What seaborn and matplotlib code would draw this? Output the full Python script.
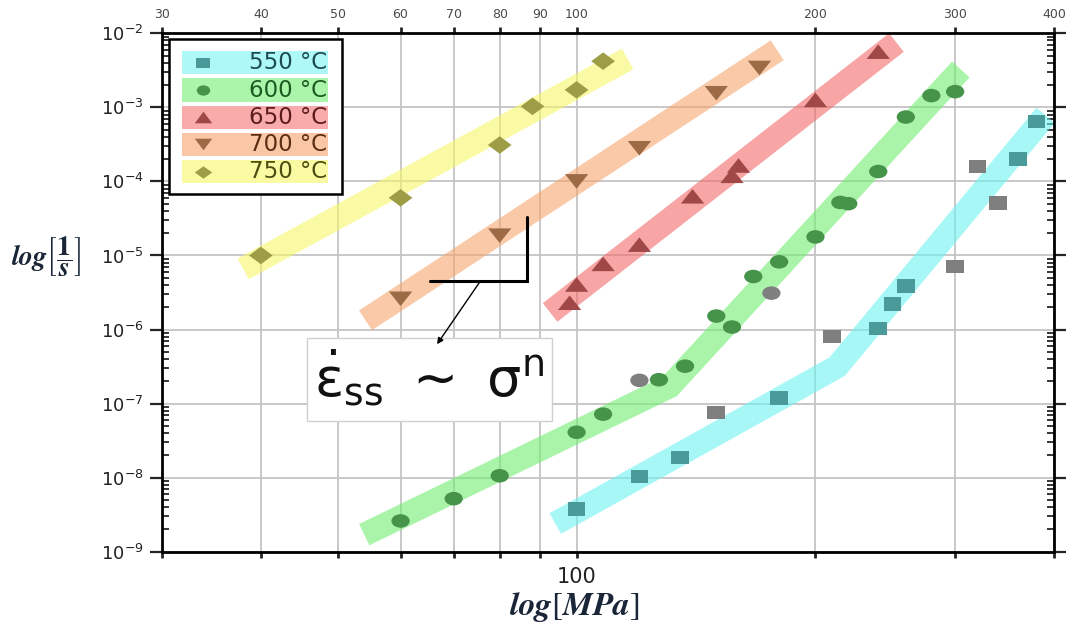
import matplotlib
matplotlib.use("Agg")
import matplotlib.pyplot as plt
from matplotlib.markers import MarkerStyle
from matplotlib.transforms import Affine2D
from matplotlib.patches import Rectangle
from matplotlib.ticker import FixedLocator, NullLocator, LogLocator, NullFormatter
import pandas as pd
import seaborn as sns

# ---------------- data ----------------
temps = ["550 °C", "600 °C", "650 °C", "700 °C", "750 °C"]

stress_550 = [100, 120, 135, 150, 180, 210, 240, 250, 260, 300, 320, 340, 360, 380]
rate_550 = [3.8e-9, 1.04e-8, 1.87e-8, 7.6e-8, 1.18e-7, 8.1e-7, 1.03e-6, 2.2e-6,
            3.9e-6, 7.1e-6, 1.6e-4, 5.1e-5, 2.0e-4, 6.4e-4]
grey_550 = [0, 0, 0, 1, 0, 1, 0, 0, 0, 1, 1, 1, 0, 0]

stress_600 = [60, 70, 80, 100, 108, 120, 127, 137, 150, 157, 167, 176, 180, 200,
              215, 220, 240, 260, 280, 300]
rate_600 = [2.6e-9, 5.2e-9, 1.06e-8, 4.1e-8, 7.2e-8, 2.06e-7, 2.1e-7, 3.2e-7,
            1.52e-6, 1.08e-6, 5.2e-6, 3.1e-6, 8.2e-6, 1.78e-5, 5.2e-5, 5.0e-5,
            1.36e-4, 7.4e-4, 1.44e-3, 1.63e-3]
grey_600 = [0, 0, 0, 0, 0, 1, 0, 0, 0, 0, 0, 1, 0, 0, 0, 0, 0, 0, 0, 0]

stress_650 = [98, 100, 108, 120, 140, 157, 160, 200, 240]
rate_650 = [2.3e-6, 4.05e-6, 7.7e-6, 1.4e-5, 6.3e-5, 1.19e-4, 1.64e-4, 1.26e-3, 5.65e-3]
grey_650 = [0] * len(stress_650)

stress_700 = [60, 80, 100, 120, 150, 170]
rate_700 = [2.6e-6, 1.85e-5, 1.0e-4, 2.8e-4, 1.55e-3, 3.4e-3]
grey_700 = [0] * len(stress_700)

stress_750 = [40, 60, 80, 88, 100, 108]
rate_750 = [1.0e-5, 6.0e-5, 3.1e-4, 1.03e-3, 1.72e-3, 4.2e-3]
grey_750 = [0] * len(stress_750)

# power-law trend bands (550 and 600 °C change slope)
band_550_stress = [94, 213, 390]
band_550_rate = [2.4e-9, 3.15e-7, 7.8e-4]
band_600_stress = [54, 131, 305]
band_600_rate = [1.7e-9, 1.7e-7, 3.25e-3]
band_650_stress = [92.6, 253]
band_650_rate = [1.7e-6, 7.5e-3]
band_700_stress = [54.2, 179]
band_700_rate = [1.33e-6, 5.9e-3]
band_750_stress = [38.0, 116]
band_750_rate = [6.6e-6, 4.5e-3]

stress_ticks = [30, 40, 50, 60, 70, 80, 90, 100, 200, 300, 400]
stress_tick_labels = ["30", "40", "50", "60", "70", "80", "90", "100", "200", "300", "400"]
bottom_tick = 100
rate_ticks = [1e-9, 1e-8, 1e-7, 1e-6, 1e-5, 1e-4, 1e-3, 1e-2]

# slope guide (stress, rate) and arrow
guide_stress = [65.3, 86.6, 86.6]
guide_rate = [4.57e-6, 4.57e-6, 3.34e-5]
arrow_from = (75.7, 4.57e-6)
arrow_to = (66.4, 5.9e-7)

# ---------------- styles ----------------
band_colors = ["#6ef3f3", "#70ee70", "#f26969", "#f5a56e", "#f7f769"]
marker_colors = ["#4a9a9a", "#45944a", "#a04848", "#9c6a44", "#9d9d46"]
text_colors = ["#1d4c50", "#1d5a22", "#5c1c1c", "#5a2d14", "#4d4d12"]
legend_fill = ["#aef8f8", "#aaf5aa", "#f9aaaa", "#f9c7a6", "#fafaa2"]
shade_color = "#7f7f7f"

def stretched(m, sx):
    return MarkerStyle(m, transform=Affine2D().scale(sx, 1.0))

markers = [stretched("s", 1.3), stretched("o", 1.35), stretched("^", 1.6),
           stretched("v", 1.6), stretched("D", 1.35)]
sizes = [95, 95, 110, 110, 80]

series = [
    (stress_550, rate_550, grey_550, band_550_stress, band_550_rate),
    (stress_600, rate_600, grey_600, band_600_stress, band_600_rate),
    (stress_650, rate_650, grey_650, band_650_stress, band_650_rate),
    (stress_700, rate_700, grey_700, band_700_stress, band_700_rate),
    (stress_750, rate_750, grey_750, band_750_stress, band_750_rate),
]

sns.set_style("white")
plt.rcParams["font.family"] = ["DejaVu Sans"]

fig = plt.figure(figsize=(10.66, 6.28), dpi=100)
ax = fig.add_axes([0.1517, 0.1215, 0.8373, 0.8255])
ax.set_xscale("log")
ax.set_yscale("log")

for i, (sx, ry, gy, bx, by) in enumerate(series):
    ax.plot(bx, by, color=band_colors[i], lw=17, alpha=0.6,
            solid_capstyle="butt", solid_joinstyle="miter", zorder=1)
    df = pd.DataFrame({"stress": sx, "rate": ry, "shade": gy})
    sns.scatterplot(data=df, x="stress", y="rate", hue="shade",
                    palette={0: marker_colors[i], 1: shade_color},
                    marker=markers[i], s=sizes[i], linewidth=0,
                    edgecolor="none", legend=False, ax=ax, zorder=3)

ax.set_xlim(30, 400)
ax.set_ylim(1e-9, 1e-2)
ax.set_xlabel("")
ax.set_ylabel("")

# x axis: labelled ticks on top, bare ticks on bottom
ax.xaxis.set_major_locator(FixedLocator(stress_ticks))
ax.xaxis.set_minor_locator(NullLocator())
ax.set_xticklabels(stress_tick_labels)
ax.tick_params(axis="x", which="major", direction="out", length=4, width=2,
               top=True, bottom=True, labeltop=True, labelbottom=False,
               labelsize=9, labelcolor="#4a4a4a", pad=5)
ax.text(bottom_tick, -0.048, str(bottom_tick), transform=ax.get_xaxis_transform(),
        ha="center", va="center", fontsize=15, color="#222222")

# y axis: decades with inner minor ticks on both sides
ax.yaxis.set_major_locator(FixedLocator(rate_ticks))
ax.yaxis.set_minor_locator(LogLocator(base=10, subs=range(2, 10), numticks=20))
ax.yaxis.set_minor_formatter(NullFormatter())
ax.tick_params(axis="y", which="major", direction="out", length=9, width=1.6,
               left=True, right=True, labelsize=13, labelcolor="#222222", pad=4)
ax.tick_params(axis="y", which="minor", direction="in", length=5, width=1.3,
               left=True, right=True)

for sp in ax.spines.values():
    sp.set_visible(True)
    sp.set_color("black")
    sp.set_linewidth(2)

ax.grid(True, which="major", color="#c4c4c4", lw=1.3)
ax.set_axisbelow(True)

# slope guide and arrow to the power-law relation
ax.plot(guide_stress, guide_rate, color="black", lw=2.2, zorder=4,
        solid_joinstyle="miter")
ax.annotate("", xy=arrow_to, xytext=arrow_from,
            arrowprops=dict(arrowstyle="-|>", color="black", lw=1.0,
                            mutation_scale=9), zorder=6)

ax.add_patch(Rectangle((0.1631, 0.2527), 0.2738, 0.1601, transform=ax.transAxes,
                       facecolor="white", edgecolor="#cfcfcf", lw=1.0, zorder=5))
ax.text(0.300, 0.336,
        r"$\dot{\mathrm{\varepsilon}}_{\mathrm{ss}}\ \mathrm{\sim}\ \mathrm{\sigma}^{\mathrm{n}}$",
        transform=ax.transAxes, ha="center", va="center", fontsize=39,
        color="#111111", math_fontfamily="dejavusans", zorder=6)

# legend with coloured rows
ax.add_patch(Rectangle((0.0084, 0.690), 0.1931, 0.2984, transform=ax.transAxes,
                       facecolor="white", edgecolor="black", lw=1.8, zorder=7))
row_centers = [0.943, 0.8905, 0.838, 0.7855, 0.733]
legend_markers = [stretched("s", 1.4), stretched("o", 1.3), stretched("^", 1.5),
                  stretched("v", 1.5), stretched("D", 1.4)]
legend_sizes = [45, 55, 70, 70, 40]
for i, name in enumerate(temps):
    yc = row_centers[i]
    ax.add_patch(Rectangle((0.0225, yc - 0.0225), 0.1638, 0.045,
                           transform=ax.transAxes, facecolor=legend_fill[i],
                           edgecolor="none", zorder=8))
    ax.scatter([0.0467], [yc], transform=ax.transAxes, marker=legend_markers[i],
               s=legend_sizes[i], color=marker_colors[i], linewidths=0,
               zorder=9, clip_on=False)
    ax.text(0.185, yc, name, transform=ax.transAxes, ha="right", va="center",
            fontsize=16.5, color=text_colors[i], zorder=9)

# axis titles
fig.text(0.043, 0.592, r"$\mathbfit{log}\left[\dfrac{\mathbf{1}}{\mathbfit{s}}\right]$",
         ha="center", va="center", fontsize=20, color="#1a2638",
         math_fontfamily="stix")
fig.text(0.5385, 0.033, r"$\mathbfit{log}[\mathbfit{MPa}]$",
         ha="center", va="center", fontsize=24, color="#1a2638",
         math_fontfamily="stix")

fig.savefig("out.png", dpi=100, facecolor="white")
